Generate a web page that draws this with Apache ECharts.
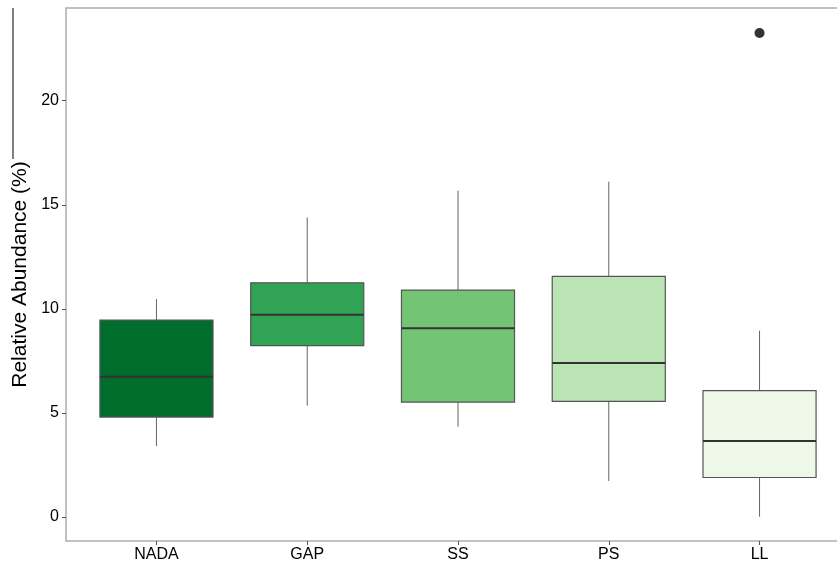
<!DOCTYPE html>
<html>
<head>
<meta charset="utf-8">
<script src="https://cdn.jsdelivr.net/npm/echarts@6/dist/echarts.min.js"></script>
<style>
  html, body { margin: 0; padding: 0; background: #ffffff; overflow: hidden; }
  /* The plotting panel runs slightly past the right edge of the window */
  #chart { width: 852px; height: 564px; }
</style>
</head>
<body>
<div id="chart"></div>
<script>
// Site categories along the x axis
const categories = ['NADA', 'GAP', 'SS', 'PS', 'LL'];
// Five-number summaries per site (Relative Abundance, %)
const whiskerLow  = [3.41, 5.35, 4.34, 1.73, 0.02];
const lowerQuart  = [4.80, 8.23, 5.52, 5.56, 1.90];
const medians     = [6.74, 9.72, 9.07, 7.40, 3.65];
const upperQuart  = [9.46, 11.25, 10.90, 11.56, 6.07];
const whiskerHigh = [10.47, 14.39, 15.68, 16.11, 8.95];
// Outlying observations: [site index, value]
const outliers = [[4, 23.25]];
// Y tick values
const yTicks = [0, 5, 10, 15, 20];
// Fill colours per site
const fills = ['#006d2c', '#31a354', '#74c476', '#bae4b3', '#edf8e9'];

// Half of the box width, in x-axis units (boxes span 0.75 of a category slot)
const HALF_BOX = 0.375;

const xPos = categories.map((_, i) => i + 1);
const boxData = categories.map((_, i) =>
  [xPos[i], whiskerLow[i], lowerQuart[i], medians[i], upperQuart[i], whiskerHigh[i]]);
const outlierData = outliers.map(o => [xPos[o[0]], o[1]]);

const font = '"Liberation Sans", Arial, sans-serif';
const chart = echarts.init(document.getElementById('chart'), null, { renderer: 'canvas' });

function renderBox(params, api) {
  const x = api.value(0);
  const lo = api.value(1), q1 = api.value(2), med = api.value(3), q3 = api.value(4), hi = api.value(5);
  const pLo = api.coord([x, lo]);
  const pHi = api.coord([x, hi]);
  const pQ1 = api.coord([x, q1]);
  const pQ3 = api.coord([x, q3]);
  const left = api.coord([x - HALF_BOX, med]);
  const right = api.coord([x + HALF_BOX, med]);
  const whiskerStyle = { stroke: '#666666', lineWidth: 1 };
  return {
    type: 'group',
    children: [
      { type: 'line', shape: { x1: pHi[0], y1: pHi[1], x2: pQ3[0], y2: pQ3[1] }, style: whiskerStyle },
      { type: 'line', shape: { x1: pQ1[0], y1: pQ1[1], x2: pLo[0], y2: pLo[1] }, style: whiskerStyle },
      {
        type: 'rect',
        shape: { x: left[0], y: pQ3[1], width: right[0] - left[0], height: pQ1[1] - pQ3[1] },
        style: { fill: fills[params.dataIndex], stroke: '#555555', lineWidth: 1.2 }
      },
      {
        type: 'line',
        shape: { x1: left[0], y1: left[1], x2: right[0], y2: right[1] },
        style: { stroke: '#333333', lineWidth: 2 }
      }
    ]
  };
}

chart.setOption({
  animation: false,
  backgroundColor: '#ffffff',
  grid: {
    left: 66, top: 8, height: 533, width: 784,
    show: true, borderColor: '#adadad', borderWidth: 1.5, backgroundColor: 'transparent'
  },
  xAxis: {
    type: 'value',
    min: 0.4, max: 5.6,
    axisLine: { show: false, onZero: false },
    splitLine: { show: false },
    axisTick: { show: true, length: 4, customValues: xPos, lineStyle: { color: '#555', width: 1 } },
    axisLabel: {
      customValues: xPos,
      formatter: v => categories[Math.round(v) - 1] || '',
      color: '#000', fontSize: 16, fontFamily: font, margin: 6
    }
  },
  yAxis: {
    type: 'value',
    min: -1.15, max: 24.45,
    name: 'Relative Abundance (%)',
    nameLocation: 'middle',
    nameGap: 33,
    nameTextStyle: { fontSize: 21, fontFamily: font, color: '#000' },
    axisLine: { show: false, onZero: false },
    splitLine: { show: false },
    axisTick: { show: true, length: 4, customValues: yTicks, lineStyle: { color: '#555', width: 1 } },
    axisLabel: {
      customValues: yTicks,
      color: '#000', fontSize: 16, fontFamily: font, margin: 7
    }
  },
  series: [
    {
      type: 'custom',
      renderItem: renderBox,
      encode: { x: 0, y: [1, 2, 3, 4, 5] },
      data: boxData
    },
    {
      type: 'scatter',
      symbol: 'circle',
      symbolSize: 10,
      itemStyle: { color: '#333333', opacity: 1 },
      data: outlierData
    }
  ],
  graphic: [
    {
      type: 'line',
      shape: { x1: 13, y1: 8, x2: 13, y2: 159 },
      style: { stroke: '#555555', lineWidth: 1.5 }
    }
  ]
});
</script>
</body>
</html>
